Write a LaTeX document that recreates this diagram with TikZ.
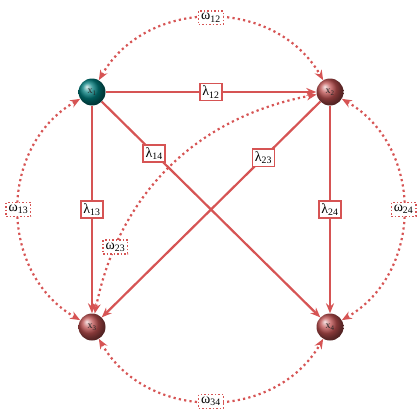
\documentclass[tikz,border=0pt]{standalone}
\usepackage{fontspec}
\setmainfont{Liberation Serif}
\usetikzlibrary{arrows.meta,shadings}
\definecolor{edgecol}{RGB}{214,84,84}
\definecolor{tealball}{RGB}{0,125,125}
\definecolor{redball}{RGB}{190,80,80}
\newcommand{\lab}[2]{#1\textsubscript{#2}}
\tikzset{
  vert/.style={circle,minimum size=27pt,inner sep=0pt,font=\normalsize,text=black!85},
  tvert/.style={vert,ball color=tealball},
  rvert/.style={vert,ball color=redball},
  solidedge/.style={draw=edgecol,line width=2.2pt,-{Stealth[length=10pt,width=8pt]}},
  dotedge/.style={draw=edgecol,line width=2.2pt,dash pattern=on 2.2pt off 3.2pt,{Stealth[length=10pt,width=8pt]}-{Stealth[length=10pt,width=8pt]}},
  lamlab/.style={draw=edgecol,fill=white,line width=1.5pt,inner sep=2.5pt,font=\fontsize{14}{16}\selectfont,solid},
  omlab/.style={draw=edgecol,fill=white,line width=1.5pt,dash pattern=on 1.5pt off 2pt,inner sep=2.5pt,font=\fontsize{14}{16}\selectfont},
}
\begin{document}
\begin{tikzpicture}[x=1pt,y=-1pt]
\useasboundingbox (0,0) rectangle (420,420);
\node[tvert] (x1) at (92,92) {\lab{x}{1}};
\node[rvert] (x2) at (330,92) {\lab{x}{2}};
\node[rvert] (x3) at (92,327) {\lab{x}{3}};
\node[rvert] (x4) at (330,327) {\lab{x}{4}};
% outer dotted curves
\draw[dotedge] (x1) to[out=60,in=120,looseness=1.1] node[omlab,pos=0.5] (w12) {\lab{ω}{12}} (x2);
\draw[dotedge] (x1) to[out=210,in=150,looseness=1.1] node[omlab,pos=0.5] (w13) {\lab{ω}{13}} (x3);
\draw[dotedge] (x2) to[out=-30,in=30,looseness=1.1] node[omlab,pos=0.5] (w24) {\lab{ω}{24}} (x4);
\draw[dotedge] (x3) to[out=-60,in=240,looseness=1.1] node[omlab,pos=0.5] (w34) {\lab{ω}{34}} (x4);
\draw[dotedge] (x2) to[bend right=34] node[omlab,pos=0.8] (w23) {\lab{ω}{23}} (x3);
% solid edges
\draw[solidedge] (x1) -- node[lamlab,pos=0.5] (l12) {\lab{λ}{12}} (x2);
\draw[solidedge] (x1) -- node[lamlab,pos=0.5] (l13) {\lab{λ}{13}} (x3);
\draw[solidedge] (x2) -- node[lamlab,pos=0.5] (l24) {\lab{λ}{24}} (x4);
\draw[solidedge] (x1) -- node[lamlab,pos=0.24] (l14) {\lab{λ}{14}} (x4);
\draw[solidedge] (x2) -- node[lamlab,pos=0.26] (l23) {\lab{λ}{23}} (x3);
\end{tikzpicture}
\end{document}
